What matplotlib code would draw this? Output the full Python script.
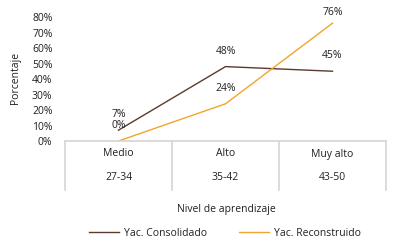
import matplotlib
matplotlib.use('Agg')
import matplotlib.pyplot as plt
import matplotlib.transforms as mtransforms
from matplotlib.ticker import PercentFormatter

plt.rcParams['font.family'] = ['Open Sans', 'DejaVu Sans']

niveles = ['Medio', 'Alto', 'Muy alto']
rangos = ['27-34', '35-42', '43-50']
consolidado = [0.07, 0.48, 0.45]
reconstruido = [0.00, 0.24, 0.76]
lbl_cons = ['7%', '48%', '45%']
lbl_rec = ['0%', '24%', '76%']

c_brown = '#5b3a2e'
c_orange = '#f2a52a'
c_grid = '#d9d3cf'
c_text = '#231f20'
fs = 7.5

fig = plt.figure(figsize=(3.96, 2.45), dpi=100)
ax = fig.add_axes([65/396, 1-141/245, (386-65)/396, (141-17)/245])

xs = [i + 0.5 for i in range(len(niveles))]
ax.plot(xs, consolidado, color=c_brown, lw=1.0, label='Yac. Consolidado')
ax.plot(xs, reconstruido, color=c_orange, lw=1.0, label='Yac. Reconstruido')

for x, y, t in zip(xs, consolidado, lbl_cons):
    ax.annotate(t, (x, y), xytext=(0, 11), textcoords='offset points',
                ha='center', va='center', fontsize=fs, color=c_text)
for x, y, t in zip(xs, reconstruido, lbl_rec):
    off = 8 if y > 0.7 else 11
    ax.annotate(t, (x, y), xytext=(0, off), textcoords='offset points',
                ha='center', va='center', fontsize=fs, color=c_text,
                annotation_clip=False)

ax.set_xlim(0, 3)
ax.set_ylim(0, 0.8)
ax.set_yticks([i / 10 for i in range(9)])
ax.yaxis.set_major_formatter(PercentFormatter(1.0, decimals=0))
ax.tick_params(axis='y', length=0, pad=9, labelsize=fs, labelcolor=c_text)
ax.set_xticks([])
for s in ['left', 'right', 'top']:
    ax.spines[s].set_visible(False)
ax.spines['bottom'].set_color(c_grid)
ax.spines['bottom'].set_linewidth(1.2)

# table below the axis
trans = mtransforms.blended_transform_factory(ax.transData, ax.transAxes)
h = ax.get_position().height * 245
for xb in range(len(niveles) + 1):
    ax.plot([xb, xb], [0, -49/h], color=c_grid, lw=1.2, transform=trans, clip_on=False)
for x, n, r in zip(xs, niveles, rangos):
    ax.text(x, -13/h, n, transform=trans, ha='center', va='center', fontsize=fs, color=c_text)
    ax.text(x, -37/h, r, transform=trans, ha='center', va='center', fontsize=fs, color=c_text)

fig.text(226/396, 1-209/245, 'Nivel de aprendizaje', ha='center', va='center', fontsize=fs, color=c_text)
fig.text(15/396, 1-78/245, 'Porcentaje', ha='center', va='center', rotation=90, fontsize=fs, color=c_text)

fig.legend(loc='center', bbox_to_anchor=(225/396, 1-233/245), ncol=2, frameon=False,
           fontsize=fs, handlelength=2.9, handletextpad=0.5, columnspacing=3.0,
           labelcolor=c_text)

fig.savefig('out.png', dpi=100)
